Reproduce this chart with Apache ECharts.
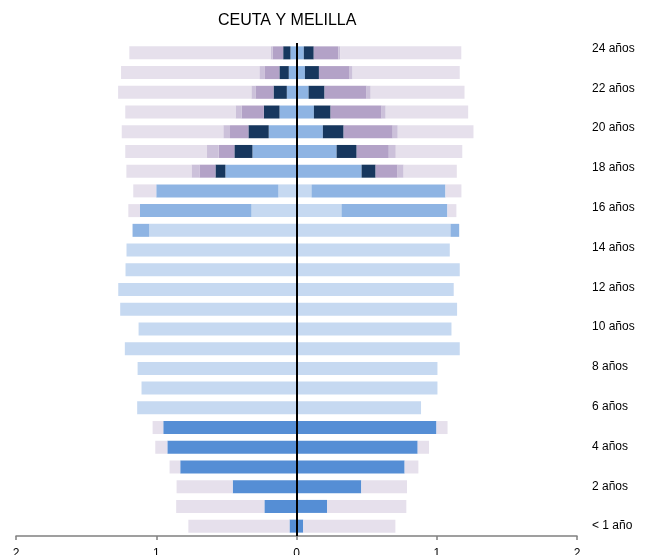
<!DOCTYPE html>
<html>
<head>
<meta charset="utf-8">
<script src="https://cdn.jsdelivr.net/npm/echarts@6/dist/echarts.min.js"></script>
<style>html,body{margin:0;padding:0;background:#fff}#c{width:646px;height:555px}</style>
</head>
<body>
<div id="c"></div>
<script>
var categories = ["< 1 año","1 año","2 años","3 años","4 años","5 años","6 años","7 años","8 años","9 años","10 años","11 años","12 años","13 años","14 años","15 años","16 años","17 años","18 años","19 años","20 años","21 años","22 años","23 años","24 años"];
var xTicks = [-2, -1, 0, 1, 2];

// Left side (shown to the left of zero)
var infantilL = [0.05,0.229,0.455,0.829,0.921,0.95,0,0,0,0,0,0,0,0,0,0,0,0,0,0,0,0,0,0,0];
var primariaL = [0,0,0,0,0,0,1.136,1.105,1.133,1.224,1.126,1.257,1.271,1.219,1.212,1.05,0.321,0.129,0,0,0,0,0,0,0];
var secundariaL = [0,0,0,0,0,0,0,0,0,0,0,0,0,0,0,0.119,0.795,0.871,0.507,0.314,0.198,0.121,0.069,0.055,0.043];
var fpL = [0,0,0,0,0,0,0,0,0,0,0,0,0,0,0,0,0,0,0.071,0.129,0.145,0.112,0.095,0.067,0.052];
var univL = [0,0,0,0,0,0,0,0,0,0,0,0,0,0,0,0,0,0,0.114,0.112,0.131,0.159,0.129,0.107,0.076];
var otrosL = [0,0,0,0,0,0,0,0,0,0,0,0,0,0,0,0,0,0,0.057,0.083,0.048,0.043,0.029,0.036,0.014];
var noEstL = [0.721,0.629,0.4,0.076,0.086,0.076,0,0,0,0,0,0,0,0,0,0,0.083,0.164,0.464,0.583,0.724,0.786,0.95,0.986,1.007];

// Right side
var infantilR = [0.048,0.219,0.462,0.771,0.864,0.998,0,0,0,0,0,0,0,0,0,0,0,0,0,0,0,0,0,0,0];
var primariaR = [0,0,0,0,0,0,0.888,1.005,1.005,1.164,1.105,1.145,1.121,1.164,1.093,1.098,0.321,0.107,0,0,0,0,0,0,0];
var secundariaR = [0,0,0,0,0,0,0,0,0,0,0,0,0,0,0,0.062,0.755,0.955,0.464,0.286,0.188,0.124,0.086,0.06,0.052];
var fpR = [0,0,0,0,0,0,0,0,0,0,0,0,0,0,0,0,0,0,0.1,0.143,0.148,0.119,0.114,0.1,0.071];
var univR = [0,0,0,0,0,0,0,0,0,0,0,0,0,0,0,0,0,0,0.157,0.229,0.35,0.364,0.3,0.219,0.176];
var otrosR = [0,0,0,0,0,0,0,0,0,0,0,0,0,0,0,0,0,0,0.043,0.05,0.036,0.029,0.029,0.021,0.014];
var noEstR = [0.657,0.564,0.326,0.098,0.081,0.079,0,0,0,0,0,0,0,0,0,0,0.064,0.114,0.379,0.474,0.54,0.588,0.669,0.764,0.862];

var colors = ["#558ed5","#c6d9f1","#8eb4e3","#17375e","#b3a2c7","#ccc1da","#e6e0ec"];
var leftSets = [infantilL, primariaL, secundariaL, fpL, univL, otrosL, noEstL];
var rightSets = [infantilR, primariaR, secundariaR, fpR, univR, otrosR, noEstR];

var series = [];
function mk(data, i, neg) {
  return {
    type: 'bar', stack: 'total', barWidth: 13,
    xAxisIndex: 0, yAxisIndex: 0,
    itemStyle: { color: colors[i] },
    data: data.map(function (v) { return neg ? -v : v; }),
    silent: true, animation: false
  };
}
leftSets.forEach(function (d, i) { series.push(mk(d, i, true)); });
rightSets.forEach(function (d, i) { series.push(mk(d, i, false)); });
series[series.length - 1].markLine = {
  silent: true, symbol: 'none', animation: false,
  label: { show: false },
  lineStyle: { color: '#000', width: 2, type: 'solid' },
  data: [{ xAxis: 0 }]
};

var chart = echarts.init(document.getElementById('c'), null, { renderer: 'canvas' });
chart.setOption({
  animation: false,
  title: {
    text: 'CEUTA Y MELILLA', left: 213, top: 8,
    textStyle: { fontFamily: 'Liberation Sans', fontSize: 16, fontWeight: 'normal', color: '#000' }
  },
  grid: [
    { left: 16, right: 69, top: 43, bottom: 19, containLabel: false, outerBoundsMode: 'none' },
    { left: 16, right: 69, top: 38.5, bottom: 19, containLabel: false, outerBoundsMode: 'none' }
  ],
  xAxis: [
    {
      type: 'value', gridIndex: 0, min: xTicks[0], max: xTicks[xTicks.length - 1], interval: 1,
      axisLine: { show: true, onZero: false, lineStyle: { color: '#808080', width: 1.5 } },
      axisTick: { show: true, length: 4, lineStyle: { color: '#808080', width: 1.5 } },
      splitLine: { show: false },
      axisLabel: {
        margin: 12, fontFamily: 'Liberation Sans', fontSize: 12, color: '#000',
        formatter: function (v) { return String(Math.abs(v)); }
      }
    },
    { type: 'value', gridIndex: 1, min: -2, max: 2, show: false }
  ],
  yAxis: [
    {
      type: 'category', gridIndex: 0, data: categories,
      axisLine: { show: false }, axisTick: { show: false }, axisLabel: { show: false },
      splitLine: { show: false }
    },
    {
      type: 'category', gridIndex: 1, data: categories, position: 'right',
      axisLine: { show: false }, axisTick: { show: false }, splitLine: { show: false },
      axisLabel: {
        interval: 1, margin: 15, align: 'left',
        fontFamily: 'Liberation Sans', fontSize: 12, color: '#000'
      }
    }
  ],
  series: series
});
</script>
</body>
</html>
